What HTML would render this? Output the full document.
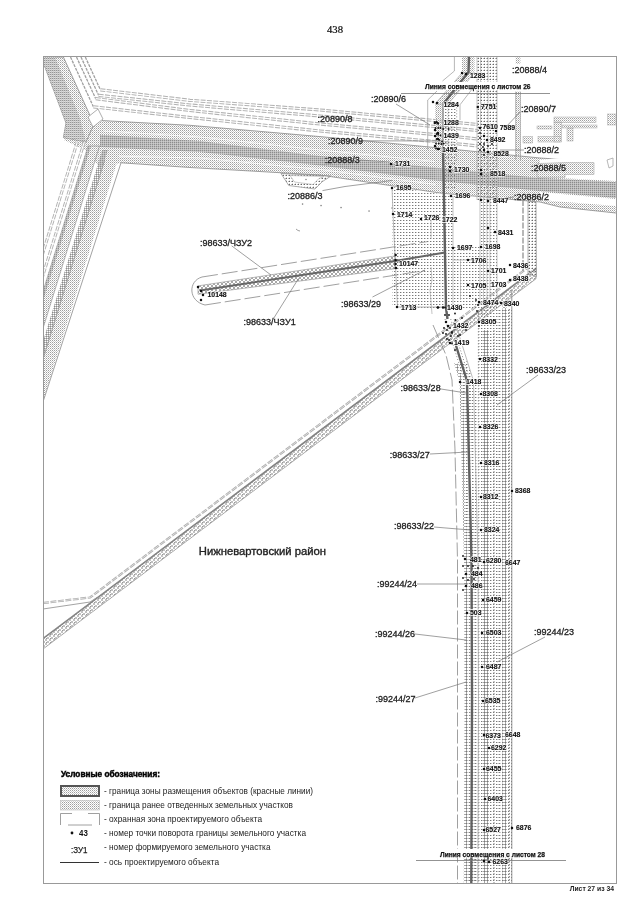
<!DOCTYPE html>
<html><head><meta charset="utf-8">
<style>
html,body{margin:0;padding:0;background:#fff;}
body{width:640px;height:905px;overflow:hidden;position:relative;font-family:"Liberation Sans",sans-serif;}
svg{position:absolute;left:0;top:0;will-change:transform;}
text{font-family:"Liberation Sans",sans-serif;}
</style></head><body>
<svg width="640" height="905" viewBox="0 0 640 905">
<defs>
<pattern id="lt" width="3" height="3" patternUnits="userSpaceOnUse"><rect x="1" y="1" width="1" height="1" fill="#777"/><rect x="2" y="1" width="1" height="1" fill="#ccc"/></pattern>
<pattern id="lt2" width="3" height="3" patternUnits="userSpaceOnUse"><rect x="1" y="1" width="1" height="1" fill="#666"/><rect x="0" y="1" width="1" height="1" fill="#bbb"/><rect x="1" y="0" width="1" height="1" fill="#ddd"/></pattern>
<pattern id="md" width="2" height="2" patternUnits="userSpaceOnUse"><rect x="0" y="0" width="1" height="1" fill="#9e9e9e"/><rect x="1" y="1" width="1" height="1" fill="#cccccc"/></pattern>
<pattern id="dk" width="2" height="2" patternUnits="userSpaceOnUse"><rect x="0" y="0" width="1" height="1" fill="#8c8c8c"/><rect x="1" y="0" width="1" height="1" fill="#bcbcbc"/><rect x="0" y="1" width="1" height="1" fill="#bcbcbc"/></pattern>
<pattern id="dk2" width="2" height="2" patternUnits="userSpaceOnUse"><rect x="0" y="0" width="1" height="1" fill="#959595"/><rect x="1" y="0" width="1" height="1" fill="#c6c6c6"/><rect x="0" y="1" width="1" height="1" fill="#dedede"/></pattern>
<pattern id="rg" width="4" height="4" patternUnits="userSpaceOnUse"><rect x="1" y="0" width="2" height="1" fill="#a8a8a8"/><rect x="0" y="1" width="1" height="2" fill="#a8a8a8"/><rect x="3" y="1" width="1" height="2" fill="#a8a8a8"/><rect x="1" y="3" width="2" height="1" fill="#a8a8a8"/></pattern>
<pattern id="rgl" width="4" height="4" patternUnits="userSpaceOnUse"><rect x="1" y="0" width="2" height="1" fill="#c2c2c2"/><rect x="0" y="1" width="1" height="2" fill="#c2c2c2"/><rect x="3" y="1" width="1" height="2" fill="#c2c2c2"/><rect x="1" y="3" width="2" height="1" fill="#c2c2c2"/><rect x="2" y="2" width="1" height="1" fill="#999"/></pattern>
<pattern id="rs" width="3" height="3" patternUnits="userSpaceOnUse"><rect x="1" y="0" width="1" height="1" fill="#a6a6a6"/><rect x="0" y="1" width="1" height="1" fill="#a6a6a6"/><rect x="2" y="1" width="1" height="1" fill="#a6a6a6"/><rect x="1" y="2" width="1" height="1" fill="#a6a6a6"/></pattern>
<pattern id="vs" width="3" height="3" patternUnits="userSpaceOnUse"><rect x="1" y="0" width="1" height="1" fill="#888"/><rect x="1" y="2" width="1" height="1" fill="#bbb"/></pattern>
<clipPath id="fr"><rect x="44" y="57" width="572" height="826"/></clipPath>
</defs>

<text x="327" y="33" font-family="Liberation Serif" font-size="11" fill="#000" stroke="#000" stroke-width="0.2" textLength="16" lengthAdjust="spacingAndGlyphs" style="font-family:'Liberation Serif'">438</text>
<g clip-path="url(#fr)">
<polygon points="66,123 91.5,118.75 103,120 121,163 100,168 85,150 64,140" fill="url(#md)"/>
<polygon points="43,57 63.4,57 91.5,118.75 94,124 86,142 63.4,137.5 66,123 43,62" fill="url(#md)" stroke="#8a8a8a" stroke-width="0.8"/>
<polygon points="43,57 55,57 80,118 86,142 63.4,137.5 66,123 43,62" fill="url(#dk2)"/>
<polyline points="85.3,57 100.4,89.8" fill="none" stroke="#a0a0a0" stroke-width="1.3" stroke-dasharray="3,1"/>
<polyline points="100.4,89.8 190,100.3 320,110 440,121 478,124.5" fill="none" stroke="#b2b2b2" stroke-width="3.2" stroke-dasharray="5,1.3"/>
<polyline points="100.4,89.8 190,100.3 320,110 440,121 478,124.5" fill="none" stroke="#fff" stroke-width="1.2"/>
<polyline points="81,57 98.6,95.3" fill="none" stroke="#a0a0a0" stroke-width="1.3" stroke-dasharray="3,1"/>
<polyline points="98.6,95.3 190,105 320,116 440,127 478,130.5" fill="none" stroke="#b2b2b2" stroke-width="3.2" stroke-dasharray="5,1.3"/>
<polyline points="98.6,95.3 190,105 320,116 440,127 478,130.5" fill="none" stroke="#fff" stroke-width="1.2"/>
<polyline points="76.5,57 95.7,98.7" fill="none" stroke="#a0a0a0" stroke-width="1.3" stroke-dasharray="3,1"/>
<polyline points="95.7,98.7 190,110.5 320,124 440,135 478,139" fill="none" stroke="#b2b2b2" stroke-width="3.2" stroke-dasharray="5,1.3"/>
<polyline points="95.7,98.7 190,110.5 320,124 440,135 478,139" fill="none" stroke="#fff" stroke-width="1.2"/>
<polyline points="70.5,57 93.4,106.8" fill="none" stroke="#a0a0a0" stroke-width="1.3" stroke-dasharray="3,1"/>
<polyline points="93.4,106.8 190,117.5 320,131 440,142 478,146" fill="none" stroke="#b2b2b2" stroke-width="3.2" stroke-dasharray="5,1.3"/>
<polyline points="93.4,106.8 190,117.5 320,131 440,142 478,146" fill="none" stroke="#fff" stroke-width="1.2"/>
<polygon points="88,117 98,109 103,119 93,127" fill="#fff" stroke="#999" stroke-width="0.8"/>
<polygon points="102.5,120.6 190,125.3 320,136.6 440,148 540,158 616,163 616,213 560,207 540,202 440,193 320,175 190,167.5 121,162.8 100,150" fill="url(#md)"/>
<polyline points="102.5,120.6 190,125.3 320,136.6 440,148 540,158 616,163" fill="none" stroke="#8a8a8a" stroke-width="0.8"/>
<polyline points="616,213 560,207 540,202 440,193 320,175 190,167.5 121,162.8" fill="none" stroke="#8a8a8a" stroke-width="0.8"/>
<polygon points="100,134.7 200,141 320,156 440,168 540,178 616,182 616,198 540,191 440,181 320,165.6 200,152 100,147" fill="url(#dk)"/>
<polyline points="104,131 200,137 320,150 440,162" fill="none" stroke="#fff" stroke-width="0.8"/>
<polyline points="110,156 200,158 320,169.5 440,185" fill="none" stroke="#fff" stroke-width="0.8"/>
<polygon points="540,192 616,199 616,206 540,200" fill="#fff"/>
<polygon points="560,158 616,161.5 616,181 540,177 540,160" fill="#fff"/>
<polygon points="537,163.6 565,162.6 594,162.6 594,174.4 565,174.4 565,177.4 537,177.4" fill="url(#md)" stroke="#aaa" stroke-width="0.6"/>
<polygon points="607,160 613,158 613,166 609,168" fill="none" stroke="#999" stroke-width="0.7"/>
<polygon points="120.8,150 37.1,420 24.1,420 107.8,150" fill="url(#md)"/>
<polyline points="121,162.8 37.1,420" fill="none" stroke="#8a8a8a" stroke-width="0.8"/>
<polyline points="104.7,160 24.1,420" fill="none" stroke="#8a8a8a" stroke-width="0.8"/>
<polygon points="102.3,150 107.8,150 24.1,420 18.6,420" fill="url(#dk)"/>
<polygon points="88.04,146 99.54,146 14.6,420 3.1,420" fill="url(#md)" stroke="#8a8a8a" stroke-width="0.6"/>
<polygon points="88.04,146 91.04,146 6.1,420 3.1,420" fill="url(#dk)"/>
<polyline points="84.28,142 -1.9,420" fill="none" stroke="#b2b2b2" stroke-width="3" stroke-dasharray="5,1.3"/>
<polyline points="84.28,142 -1.9,420" fill="none" stroke="#fff" stroke-width="1.1"/>
<polyline points="77.28,142 -8.9,420" fill="none" stroke="#b2b2b2" stroke-width="3" stroke-dasharray="5,1.3"/>
<polyline points="77.28,142 -8.9,420" fill="none" stroke="#fff" stroke-width="1.1"/>
<polygon points="281,173.5 288.75,185.5 315,189 322.5,181.5 331,176" fill="url(#lt2)" stroke="#8a8a8a" stroke-width="0.7"/>
<polygon points="290,175.5 294.5,182 313,184.5 319,178.5 324,176.5" fill="#fff" stroke="#aaa" stroke-width="0.6"/>
<circle cx="306" cy="179.5" r="0.8" fill="#888"/>
<rect x="301.9" y="203.4" width="1.3" height="1.3" fill="#777"/>
<rect x="320.4" y="204.9" width="1.3" height="1.3" fill="#777"/>
<rect x="340.4" y="206.9" width="1.3" height="1.3" fill="#777"/>
<rect x="368.4" y="210.4" width="1.3" height="1.3" fill="#777"/>
<rect x="391.4" y="207.4" width="1.3" height="1.3" fill="#777"/>
<path d="M296,229 l2,1.5 l2,0.5" fill="none" stroke="#777" stroke-width="0.7"/>
<polygon points="43,638 536,267.757 536,278.757 43,649" fill="url(#rgl)" stroke="#999" stroke-width="0.8"/>
<line x1="43" y1="638.8" x2="536" y2="268.6" stroke="#808080" stroke-width="1.3"/>
<polyline points="43,603 90,597.5 527,268.154" fill="none" stroke="#aaa" stroke-width="2.2" stroke-dasharray="6,1.5"/>
<polyline points="43,603 90,597.5 527,268.154" fill="none" stroke="#fff" stroke-width="0.6"/>
<polyline points="43,609 90,602 97,597.446" fill="none" stroke="#999" stroke-width="0.9"/>
<polygon points="528,201 536,202 536.5,276.757 528,273.765" fill="url(#lt2)" stroke="#999" stroke-width="0.8"/>
<polyline points="523,200 523,271.186" fill="none" stroke="#999" stroke-width="1.4" stroke-dasharray="6,1.5"/>
<path d="M202,277.0 L428,241.5 M205,305.0 L425,270.5" fill="none" stroke="#888" stroke-width="0.8" stroke-dasharray="16,4"/>
<path d="M202,277.0 C188,281 188,301 205,305.0" fill="none" stroke="#888" stroke-width="0.8"/>
<polygon points="198,285.904 395,255.96 395,268.65 198,294.26" fill="url(#rg)" stroke="#999" stroke-width="0.7"/>
<polygon points="392,187 453,196 497,200 497,310 392,307" fill="url(#lt)"/>
<rect x="453" y="197" width="27" height="48" fill="#fff"/>
<polyline points="392,187 393,214 397.5,307 445,307" fill="none" stroke="#999" stroke-width="0.7"/>
<polyline points="431,219 431,238" fill="none" stroke="#aaa" stroke-width="0.7"/>
<polyline points="431,267 432,280 430,290 432,314" fill="none" stroke="#aaa" stroke-width="0.7"/>
<polyline points="453,196 453,307" fill="none" stroke="#aaa" stroke-width="0.7"/>
<polyline points="460.5,260 460.5,300" fill="none" stroke="#aaa" stroke-width="0.7"/>
<polyline points="453,260 480,260" fill="none" stroke="#aaa" stroke-width="0.7"/>
<line x1="480" y1="197" x2="480" y2="300" stroke="#aaa" stroke-width="0.7"/>
<line x1="483.5" y1="197" x2="483.5" y2="300" stroke="#aaa" stroke-width="0.7"/>
<line x1="487" y1="197" x2="487" y2="300" stroke="#aaa" stroke-width="0.7"/>
<line x1="490" y1="197" x2="490" y2="300" stroke="#aaa" stroke-width="0.7"/>
<line x1="497" y1="197" x2="497" y2="300" stroke="#aaa" stroke-width="0.7"/>
<rect x="462" y="56" width="12.5" height="17" fill="url(#md)"/>
<polygon points="462,73 474.5,73 448,104 435,104" fill="url(#md)" stroke="#999" stroke-width="0.6"/>
<rect x="435" y="103" width="9" height="85" fill="url(#md)"/>
<rect x="444" y="103" width="13" height="85" fill="url(#lt)"/>
<rect x="477" y="56" width="20" height="144" fill="url(#lt2)"/>
<line x1="477" y1="56" x2="477" y2="200" stroke="#aaa" stroke-width="0.7"/>
<line x1="480.5" y1="56" x2="480.5" y2="200" stroke="#aaa" stroke-width="0.7"/>
<line x1="488" y1="56" x2="488" y2="200" stroke="#aaa" stroke-width="0.7"/>
<line x1="497" y1="56" x2="497" y2="200" stroke="#aaa" stroke-width="0.7"/>
<polyline points="454.4,56 454.4,71 442.5,81" fill="none" stroke="#999" stroke-width="0.7"/>
<polyline points="437,91 427.7,100 427.7,150" fill="none" stroke="#999" stroke-width="0.7"/>
<polyline points="476,84 460,104.75 460,120" fill="none" stroke="#999" stroke-width="0.7"/>
<line x1="448" y1="104" x2="448" y2="160" stroke="#999" stroke-width="0.7" stroke-dasharray="1.5,1.5"/>
<line x1="456.7" y1="104" x2="456.7" y2="160" stroke="#999" stroke-width="0.7" stroke-dasharray="1.5,1.5"/>
<rect x="515.7" y="56" width="4.7" height="8" fill="url(#md)"/>
<rect x="515.7" y="91.6" width="4.7" height="64" fill="url(#md)"/>
<line x1="515.7" y1="91.6" x2="515.7" y2="160" stroke="#999" stroke-width="0.7"/>
<line x1="520.4" y1="91.6" x2="520.4" y2="160" stroke="#999" stroke-width="0.7"/>
<rect x="554" y="117" width="42" height="5.6" fill="url(#md)" stroke="#aaa" stroke-width="0.5"/>
<rect x="554" y="122" width="7.6" height="20" fill="url(#md)" stroke="#aaa" stroke-width="0.5"/>
<rect x="538" y="136.6" width="22" height="5.4" fill="url(#md)" stroke="#aaa" stroke-width="0.5"/>
<rect x="537" y="126" width="15" height="3" fill="url(#md)" stroke="#aaa" stroke-width="0.5"/>
<rect x="562.6" y="125" width="34.4" height="3" fill="url(#md)" stroke="#aaa" stroke-width="0.5"/>
<rect x="567" y="128" width="6" height="13" fill="url(#md)" stroke="#aaa" stroke-width="0.5"/>
<rect x="607.6" y="114" width="8.4" height="11" fill="url(#md)" stroke="#aaa" stroke-width="0.5"/>
<rect x="523" y="136.6" width="9.6" height="6.4" fill="url(#md)" stroke="#aaa" stroke-width="0.5"/>
<rect x="477" y="310" width="35" height="574" fill="url(#lt)"/>
<rect x="473.5" y="385" width="4" height="499" fill="url(#lt)"/>
<rect x="483" y="330" width="6" height="554" fill="url(#rs)"/>
<rect x="502.5" y="300" width="4" height="584" fill="url(#rs)"/>
<line x1="478.4" y1="310" x2="478.4" y2="884" stroke="#999" stroke-width="1" stroke-dasharray="1.5,1.5"/>
<line x1="494" y1="330" x2="494" y2="884" stroke="#888" stroke-width="1" stroke-dasharray="1,2"/>
<line x1="499" y1="310" x2="499" y2="884" stroke="#888" stroke-width="1" stroke-dasharray="1,2"/>
<line x1="509.3" y1="300" x2="509.3" y2="884" stroke="#888" stroke-width="1.2" stroke-dasharray="1,2"/>
<line x1="511.8" y1="290" x2="511.8" y2="884" stroke="#888" stroke-width="0.9"/>
<path d="M461.5,363 L467,381 L471.5,560 L472,700 L471.3,884" fill="none" stroke="url(#lt)" stroke-width="12" />
<path d="M461.5,363 L467,381 L471.5,560 L472,700 L471.3,884" transform="translate(-6,0)" fill="none" stroke="url(#rs)" stroke-width="3"/>
<path d="M447.5,319 L467,381 L471.5,560 L472,700 L471.3,884" transform="translate(-2.5,0)" fill="none" stroke="#888" stroke-width="1" stroke-dasharray="1,2"/>
<path d="M447.5,319 L467,381 L471.5,560 L472,700 L471.3,884" transform="translate(3.2,0)" fill="none" stroke="#888" stroke-width="1" stroke-dasharray="1,2"/>
<path d="M447.5,319 L467,381 L471.5,560 L472,700 L471.3,884" transform="translate(6.5,0)" fill="none" stroke="#aaa" stroke-width="0.8"/>
<polyline points="433,325 446,355 452,380 455,450 457.5,560 457.5,884" fill="none" stroke="#888" stroke-width="0.8" stroke-dasharray="14,3"/>
<path d="M469,56 L468.5,72 L444,103" fill="none" stroke="#606060" stroke-width="2.4"/>
<path d="M443,103 L443,150" fill="none" stroke="#9a9a9a" stroke-width="1.6"/>
<path d="M443,150 L444,200 L446,308 L447.5,319" fill="none" stroke="#606060" stroke-width="2.4"/>
<path d="M455.5,344 L467,381 L471.5,560 L472,700 L471.3,884" fill="none" stroke="#606060" stroke-width="2.4"/>
<polyline points="200,290.5 395,261 445,252.5" fill="none" stroke="#666" stroke-width="2"/>
</g>
<rect x="424" y="82" width="108" height="8" fill="#fff"/>
<line x1="401" y1="93.5" x2="550" y2="93.5" stroke="#777" stroke-width="0.8"/>
<text x="425" y="89" font-size="7.6" font-weight="bold" fill="#111" stroke="#111" stroke-width="0.25" textLength="105.6" lengthAdjust="spacingAndGlyphs">Линия совмещения с листом 26</text>
<rect x="439" y="849" width="108" height="8.5" fill="#fff"/>
<line x1="416" y1="860.5" x2="566" y2="860.5" stroke="#777" stroke-width="0.8"/>
<text x="440" y="856.5" font-size="7.6" font-weight="bold" fill="#111" stroke="#111" stroke-width="0.25" textLength="105" lengthAdjust="spacingAndGlyphs">Линия совмещения с листом 28</text>
<g fill="#111">
<circle cx="434.9" cy="122" r="0.9"/>
<circle cx="436.6" cy="122" r="0.9"/>
<circle cx="438.2" cy="123.7" r="0.9"/>
<circle cx="435.5" cy="128" r="0.9"/>
<circle cx="438.2" cy="128" r="0.9"/>
<circle cx="440.4" cy="128" r="0.9"/>
<circle cx="443.2" cy="129" r="0.9"/>
<circle cx="448.7" cy="129" r="0.9"/>
<circle cx="436.6" cy="134" r="0.9"/>
<circle cx="438.2" cy="134.7" r="0.9"/>
<circle cx="440.4" cy="135.3" r="0.9"/>
<circle cx="436.6" cy="139" r="0.9"/>
<circle cx="439.3" cy="140" r="0.9"/>
<circle cx="442" cy="141.4" r="0.9"/>
<circle cx="436" cy="143.6" r="0.9"/>
<circle cx="438.8" cy="143.6" r="0.9"/>
<circle cx="441.5" cy="144" r="0.9"/>
<circle cx="443.7" cy="143.6" r="0.9"/>
<circle cx="436" cy="148.5" r="0.9"/>
<circle cx="439.3" cy="149" r="0.9"/>
<circle cx="480" cy="133" r="0.9"/>
<circle cx="480" cy="138" r="0.9"/>
<circle cx="484" cy="144" r="0.9"/>
<circle cx="480" cy="144" r="0.9"/>
<circle cx="483" cy="147" r="0.9"/>
<circle cx="488" cy="146" r="0.9"/>
<circle cx="480" cy="150" r="0.9"/>
<circle cx="484" cy="155" r="0.9"/>
<circle cx="492" cy="144" r="0.9"/>
<circle cx="476" cy="300" r="0.9"/>
<circle cx="470" cy="296" r="0.9"/>
<circle cx="462" cy="318" r="0.9"/>
<circle cx="466" cy="330" r="0.9"/>
<circle cx="458" cy="336" r="0.9"/>
<circle cx="452" cy="332" r="0.9"/>
<circle cx="449" cy="340" r="0.9"/>
<circle cx="455" cy="350" r="0.9"/>
<circle cx="437.5" cy="307.5" r="0.9"/>
<circle cx="445" cy="307.5" r="0.9"/>
<circle cx="445" cy="315" r="0.9"/>
<circle cx="449" cy="315" r="0.9"/>
<circle cx="455" cy="313.5" r="0.9"/>
<circle cx="455.5" cy="320" r="0.9"/>
<circle cx="444" cy="328" r="0.9"/>
<circle cx="447" cy="330" r="0.9"/>
<circle cx="450" cy="328" r="0.9"/>
<circle cx="443" cy="333" r="0.9"/>
<circle cx="446" cy="334" r="0.9"/>
<circle cx="452" cy="333" r="0.9"/>
<circle cx="447" cy="339" r="0.9"/>
<circle cx="451" cy="336" r="0.9"/>
<circle cx="460" cy="335" r="0.9"/>
<circle cx="452" cy="343.5" r="0.9"/>
<circle cx="478" cy="305" r="0.9"/>
<circle cx="477" cy="311" r="0.9"/>
<circle cx="479" cy="326" r="0.9"/>
<circle cx="463" cy="556" r="0.9"/>
<circle cx="463" cy="566" r="0.9"/>
<circle cx="468" cy="566" r="0.9"/>
<circle cx="473" cy="566" r="0.9"/>
<circle cx="463" cy="578" r="0.9"/>
<circle cx="468" cy="580" r="0.9"/>
<circle cx="463" cy="590" r="0.9"/>
<circle cx="474" cy="579" r="0.9"/>
<circle cx="478" cy="568" r="0.9"/>
<circle cx="462" cy="73" r="1.25"/>
<circle cx="466" cy="74" r="1.25"/>
<circle cx="433" cy="102" r="1.25"/>
<circle cx="437" cy="103" r="1.25"/>
<circle cx="477.8" cy="107" r="1.25"/>
<circle cx="434.8" cy="123" r="1.25"/>
<circle cx="437.5" cy="123" r="1.25"/>
<circle cx="435" cy="130" r="1.25"/>
<circle cx="438" cy="133" r="1.25"/>
<circle cx="435" cy="136" r="1.25"/>
<circle cx="438" cy="139" r="1.25"/>
<circle cx="435" cy="146" r="1.25"/>
<circle cx="438" cy="149" r="1.25"/>
<circle cx="480" cy="128" r="1.25"/>
<circle cx="496" cy="131" r="1.25"/>
<circle cx="484" cy="136" r="1.25"/>
<circle cx="487" cy="140" r="1.25"/>
<circle cx="484" cy="150" r="1.25"/>
<circle cx="488" cy="152" r="1.25"/>
<circle cx="391" cy="164" r="1.25"/>
<circle cx="450" cy="167" r="1.25"/>
<circle cx="450" cy="171" r="1.25"/>
<circle cx="481" cy="170" r="1.25"/>
<circle cx="481" cy="174" r="1.25"/>
<circle cx="392" cy="188" r="1.25"/>
<circle cx="451" cy="196" r="1.25"/>
<circle cx="481" cy="200" r="1.25"/>
<circle cx="488" cy="201" r="1.25"/>
<circle cx="393" cy="214" r="1.25"/>
<circle cx="421" cy="219" r="1.25"/>
<circle cx="488" cy="228" r="1.25"/>
<circle cx="495" cy="232" r="1.25"/>
<circle cx="453" cy="248" r="1.25"/>
<circle cx="481" cy="247" r="1.25"/>
<circle cx="395.6" cy="255" r="1.25"/>
<circle cx="395.6" cy="260" r="1.25"/>
<circle cx="395.6" cy="264" r="1.25"/>
<circle cx="396" cy="268" r="1.25"/>
<circle cx="468" cy="260" r="1.25"/>
<circle cx="510" cy="265" r="1.25"/>
<circle cx="488" cy="271" r="1.25"/>
<circle cx="510" cy="280" r="1.25"/>
<circle cx="468" cy="285" r="1.25"/>
<circle cx="479" cy="302" r="1.25"/>
<circle cx="501" cy="303" r="1.25"/>
<circle cx="397" cy="307" r="1.25"/>
<circle cx="438" cy="307.5" r="1.25"/>
<circle cx="443" cy="307.5" r="1.25"/>
<circle cx="479" cy="322" r="1.25"/>
<circle cx="446" cy="322" r="1.25"/>
<circle cx="448" cy="326" r="1.25"/>
<circle cx="450" cy="343" r="1.25"/>
<circle cx="480" cy="359" r="1.25"/>
<circle cx="460" cy="382" r="1.25"/>
<circle cx="481" cy="394" r="1.25"/>
<circle cx="480" cy="427" r="1.25"/>
<circle cx="481" cy="463" r="1.25"/>
<circle cx="481" cy="497" r="1.25"/>
<circle cx="512" cy="491" r="1.25"/>
<circle cx="481" cy="530" r="1.25"/>
<circle cx="465" cy="559" r="1.25"/>
<circle cx="484" cy="562" r="1.25"/>
<circle cx="466" cy="574" r="1.25"/>
<circle cx="466" cy="586" r="1.25"/>
<circle cx="483" cy="600" r="1.25"/>
<circle cx="467" cy="613" r="1.25"/>
<circle cx="482" cy="633" r="1.25"/>
<circle cx="482" cy="667" r="1.25"/>
<circle cx="483" cy="701" r="1.25"/>
<circle cx="484" cy="735" r="1.25"/>
<circle cx="489" cy="748" r="1.25"/>
<circle cx="484" cy="769" r="1.25"/>
<circle cx="485" cy="799" r="1.25"/>
<circle cx="484" cy="830" r="1.25"/>
<circle cx="512" cy="828" r="1.25"/>
<circle cx="484" cy="861" r="1.25"/>
<circle cx="489" cy="862" r="1.25"/>
<circle cx="198" cy="287" r="1.25"/>
<circle cx="201" cy="291" r="1.25"/>
<circle cx="203" cy="295" r="1.25"/>
<circle cx="201" cy="300" r="1.25"/>
</g>
<g font-size="7.7" font-weight="bold" fill="#fff" stroke="#fff" stroke-width="1.3" stroke-linejoin="round">
<text x="470" y="77.9" textLength="15.4" lengthAdjust="spacingAndGlyphs">1283</text>
<text x="443.4" y="107.2" textLength="15.4" lengthAdjust="spacingAndGlyphs">1284</text>
<text x="481" y="109.4" textLength="15.4" lengthAdjust="spacingAndGlyphs">7751</text>
<text x="443.4" y="125.4" textLength="15.4" lengthAdjust="spacingAndGlyphs">1288</text>
<text x="443.4" y="138.1" textLength="15.4" lengthAdjust="spacingAndGlyphs">1439</text>
<text x="442" y="152.2" textLength="15.4" lengthAdjust="spacingAndGlyphs">1452</text>
<text x="482.5" y="129.4" textLength="15.4" lengthAdjust="spacingAndGlyphs">7610</text>
<text x="499.7" y="130.4" textLength="15.4" lengthAdjust="spacingAndGlyphs">7589</text>
<text x="490" y="142.4" textLength="15.4" lengthAdjust="spacingAndGlyphs">8492</text>
<text x="493.4" y="156.0" textLength="15.4" lengthAdjust="spacingAndGlyphs">8528</text>
<text x="395" y="166.4" textLength="15.4" lengthAdjust="spacingAndGlyphs">1731</text>
<text x="454" y="172.4" textLength="15.4" lengthAdjust="spacingAndGlyphs">1730</text>
<text x="490" y="176.4" textLength="15.4" lengthAdjust="spacingAndGlyphs">8518</text>
<text x="396" y="190.4" textLength="15.4" lengthAdjust="spacingAndGlyphs">1695</text>
<text x="455" y="198.4" textLength="15.4" lengthAdjust="spacingAndGlyphs">1696</text>
<text x="493" y="203.4" textLength="15.4" lengthAdjust="spacingAndGlyphs">8447</text>
<text x="397" y="217.4" textLength="15.4" lengthAdjust="spacingAndGlyphs">1714</text>
<text x="424" y="220.4" textLength="15.4" lengthAdjust="spacingAndGlyphs">1726</text>
<text x="442" y="222.4" textLength="15.4" lengthAdjust="spacingAndGlyphs">1722</text>
<text x="498" y="235.4" textLength="15.4" lengthAdjust="spacingAndGlyphs">8431</text>
<text x="457" y="250.4" textLength="15.4" lengthAdjust="spacingAndGlyphs">1697</text>
<text x="485" y="249.4" textLength="15.4" lengthAdjust="spacingAndGlyphs">1698</text>
<text x="399" y="266.0" textLength="19.2" lengthAdjust="spacingAndGlyphs">10147</text>
<text x="471" y="263.4" textLength="15.4" lengthAdjust="spacingAndGlyphs">1706</text>
<text x="513" y="268.4" textLength="15.4" lengthAdjust="spacingAndGlyphs">8436</text>
<text x="491" y="273.4" textLength="15.4" lengthAdjust="spacingAndGlyphs">1701</text>
<text x="513" y="281.4" textLength="15.4" lengthAdjust="spacingAndGlyphs">8438</text>
<text x="471" y="288.4" textLength="15.4" lengthAdjust="spacingAndGlyphs">1705</text>
<text x="491" y="287.4" textLength="15.4" lengthAdjust="spacingAndGlyphs">1703</text>
<text x="483" y="304.9" textLength="15.4" lengthAdjust="spacingAndGlyphs">8474</text>
<text x="504" y="305.9" textLength="15.4" lengthAdjust="spacingAndGlyphs">8340</text>
<text x="401" y="309.9" textLength="15.4" lengthAdjust="spacingAndGlyphs">1713</text>
<text x="447" y="309.9" textLength="15.4" lengthAdjust="spacingAndGlyphs">1430</text>
<text x="481" y="324.4" textLength="15.4" lengthAdjust="spacingAndGlyphs">8305</text>
<text x="453" y="328.0" textLength="15.4" lengthAdjust="spacingAndGlyphs">1432</text>
<text x="454" y="344.9" textLength="15.4" lengthAdjust="spacingAndGlyphs">1419</text>
<text x="482.5" y="362.4" textLength="15.4" lengthAdjust="spacingAndGlyphs">8332</text>
<text x="466" y="384.4" textLength="15.4" lengthAdjust="spacingAndGlyphs">1418</text>
<text x="482.5" y="396.4" textLength="15.4" lengthAdjust="spacingAndGlyphs">8308</text>
<text x="483" y="429.4" textLength="15.4" lengthAdjust="spacingAndGlyphs">8326</text>
<text x="484" y="465.4" textLength="15.4" lengthAdjust="spacingAndGlyphs">8316</text>
<text x="483" y="499.4" textLength="15.4" lengthAdjust="spacingAndGlyphs">8312</text>
<text x="515" y="493.4" textLength="15.4" lengthAdjust="spacingAndGlyphs">8368</text>
<text x="484" y="532.4" textLength="15.4" lengthAdjust="spacingAndGlyphs">8324</text>
<text x="470" y="562.4" textLength="11.6" lengthAdjust="spacingAndGlyphs">481</text>
<text x="486" y="563.4" textLength="15.4" lengthAdjust="spacingAndGlyphs">6280</text>
<text x="505" y="565.4" textLength="15.4" lengthAdjust="spacingAndGlyphs">6647</text>
<text x="471" y="576.4" textLength="11.6" lengthAdjust="spacingAndGlyphs">484</text>
<text x="471" y="588.4" textLength="11.6" lengthAdjust="spacingAndGlyphs">486</text>
<text x="486" y="602.4" textLength="15.4" lengthAdjust="spacingAndGlyphs">6459</text>
<text x="470" y="615.4" textLength="11.6" lengthAdjust="spacingAndGlyphs">503</text>
<text x="486" y="635.4" textLength="15.4" lengthAdjust="spacingAndGlyphs">6503</text>
<text x="486" y="669.4" textLength="15.4" lengthAdjust="spacingAndGlyphs">6487</text>
<text x="485" y="703.4" textLength="15.4" lengthAdjust="spacingAndGlyphs">6535</text>
<text x="485.5" y="738.4" textLength="15.4" lengthAdjust="spacingAndGlyphs">6373</text>
<text x="505" y="737.4" textLength="15.4" lengthAdjust="spacingAndGlyphs">6648</text>
<text x="491" y="750.4" textLength="15.4" lengthAdjust="spacingAndGlyphs">6292</text>
<text x="486" y="771.4" textLength="15.4" lengthAdjust="spacingAndGlyphs">6455</text>
<text x="487.5" y="801.4" textLength="15.4" lengthAdjust="spacingAndGlyphs">6403</text>
<text x="485.5" y="832.4" textLength="15.4" lengthAdjust="spacingAndGlyphs">6527</text>
<text x="516" y="830.4" textLength="15.4" lengthAdjust="spacingAndGlyphs">6876</text>
<text x="492.5" y="864.4" textLength="15.4" lengthAdjust="spacingAndGlyphs">6263</text>
<text x="207.5" y="296.9" textLength="19.2" lengthAdjust="spacingAndGlyphs">10148</text>
</g>
<g font-size="7.7" font-weight="bold" fill="#111" stroke="#111" stroke-width="0.15">
<text x="470" y="77.9" textLength="15.4" lengthAdjust="spacingAndGlyphs">1283</text>
<text x="443.4" y="107.2" textLength="15.4" lengthAdjust="spacingAndGlyphs">1284</text>
<text x="481" y="109.4" textLength="15.4" lengthAdjust="spacingAndGlyphs">7751</text>
<text x="443.4" y="125.4" textLength="15.4" lengthAdjust="spacingAndGlyphs">1288</text>
<text x="443.4" y="138.1" textLength="15.4" lengthAdjust="spacingAndGlyphs">1439</text>
<text x="442" y="152.2" textLength="15.4" lengthAdjust="spacingAndGlyphs">1452</text>
<text x="482.5" y="129.4" textLength="15.4" lengthAdjust="spacingAndGlyphs">7610</text>
<text x="499.7" y="130.4" textLength="15.4" lengthAdjust="spacingAndGlyphs">7589</text>
<text x="490" y="142.4" textLength="15.4" lengthAdjust="spacingAndGlyphs">8492</text>
<text x="493.4" y="156.0" textLength="15.4" lengthAdjust="spacingAndGlyphs">8528</text>
<text x="395" y="166.4" textLength="15.4" lengthAdjust="spacingAndGlyphs">1731</text>
<text x="454" y="172.4" textLength="15.4" lengthAdjust="spacingAndGlyphs">1730</text>
<text x="490" y="176.4" textLength="15.4" lengthAdjust="spacingAndGlyphs">8518</text>
<text x="396" y="190.4" textLength="15.4" lengthAdjust="spacingAndGlyphs">1695</text>
<text x="455" y="198.4" textLength="15.4" lengthAdjust="spacingAndGlyphs">1696</text>
<text x="493" y="203.4" textLength="15.4" lengthAdjust="spacingAndGlyphs">8447</text>
<text x="397" y="217.4" textLength="15.4" lengthAdjust="spacingAndGlyphs">1714</text>
<text x="424" y="220.4" textLength="15.4" lengthAdjust="spacingAndGlyphs">1726</text>
<text x="442" y="222.4" textLength="15.4" lengthAdjust="spacingAndGlyphs">1722</text>
<text x="498" y="235.4" textLength="15.4" lengthAdjust="spacingAndGlyphs">8431</text>
<text x="457" y="250.4" textLength="15.4" lengthAdjust="spacingAndGlyphs">1697</text>
<text x="485" y="249.4" textLength="15.4" lengthAdjust="spacingAndGlyphs">1698</text>
<text x="399" y="266.0" textLength="19.2" lengthAdjust="spacingAndGlyphs">10147</text>
<text x="471" y="263.4" textLength="15.4" lengthAdjust="spacingAndGlyphs">1706</text>
<text x="513" y="268.4" textLength="15.4" lengthAdjust="spacingAndGlyphs">8436</text>
<text x="491" y="273.4" textLength="15.4" lengthAdjust="spacingAndGlyphs">1701</text>
<text x="513" y="281.4" textLength="15.4" lengthAdjust="spacingAndGlyphs">8438</text>
<text x="471" y="288.4" textLength="15.4" lengthAdjust="spacingAndGlyphs">1705</text>
<text x="491" y="287.4" textLength="15.4" lengthAdjust="spacingAndGlyphs">1703</text>
<text x="483" y="304.9" textLength="15.4" lengthAdjust="spacingAndGlyphs">8474</text>
<text x="504" y="305.9" textLength="15.4" lengthAdjust="spacingAndGlyphs">8340</text>
<text x="401" y="309.9" textLength="15.4" lengthAdjust="spacingAndGlyphs">1713</text>
<text x="447" y="309.9" textLength="15.4" lengthAdjust="spacingAndGlyphs">1430</text>
<text x="481" y="324.4" textLength="15.4" lengthAdjust="spacingAndGlyphs">8305</text>
<text x="453" y="328.0" textLength="15.4" lengthAdjust="spacingAndGlyphs">1432</text>
<text x="454" y="344.9" textLength="15.4" lengthAdjust="spacingAndGlyphs">1419</text>
<text x="482.5" y="362.4" textLength="15.4" lengthAdjust="spacingAndGlyphs">8332</text>
<text x="466" y="384.4" textLength="15.4" lengthAdjust="spacingAndGlyphs">1418</text>
<text x="482.5" y="396.4" textLength="15.4" lengthAdjust="spacingAndGlyphs">8308</text>
<text x="483" y="429.4" textLength="15.4" lengthAdjust="spacingAndGlyphs">8326</text>
<text x="484" y="465.4" textLength="15.4" lengthAdjust="spacingAndGlyphs">8316</text>
<text x="483" y="499.4" textLength="15.4" lengthAdjust="spacingAndGlyphs">8312</text>
<text x="515" y="493.4" textLength="15.4" lengthAdjust="spacingAndGlyphs">8368</text>
<text x="484" y="532.4" textLength="15.4" lengthAdjust="spacingAndGlyphs">8324</text>
<text x="470" y="562.4" textLength="11.6" lengthAdjust="spacingAndGlyphs">481</text>
<text x="486" y="563.4" textLength="15.4" lengthAdjust="spacingAndGlyphs">6280</text>
<text x="505" y="565.4" textLength="15.4" lengthAdjust="spacingAndGlyphs">6647</text>
<text x="471" y="576.4" textLength="11.6" lengthAdjust="spacingAndGlyphs">484</text>
<text x="471" y="588.4" textLength="11.6" lengthAdjust="spacingAndGlyphs">486</text>
<text x="486" y="602.4" textLength="15.4" lengthAdjust="spacingAndGlyphs">6459</text>
<text x="470" y="615.4" textLength="11.6" lengthAdjust="spacingAndGlyphs">503</text>
<text x="486" y="635.4" textLength="15.4" lengthAdjust="spacingAndGlyphs">6503</text>
<text x="486" y="669.4" textLength="15.4" lengthAdjust="spacingAndGlyphs">6487</text>
<text x="485" y="703.4" textLength="15.4" lengthAdjust="spacingAndGlyphs">6535</text>
<text x="485.5" y="738.4" textLength="15.4" lengthAdjust="spacingAndGlyphs">6373</text>
<text x="505" y="737.4" textLength="15.4" lengthAdjust="spacingAndGlyphs">6648</text>
<text x="491" y="750.4" textLength="15.4" lengthAdjust="spacingAndGlyphs">6292</text>
<text x="486" y="771.4" textLength="15.4" lengthAdjust="spacingAndGlyphs">6455</text>
<text x="487.5" y="801.4" textLength="15.4" lengthAdjust="spacingAndGlyphs">6403</text>
<text x="485.5" y="832.4" textLength="15.4" lengthAdjust="spacingAndGlyphs">6527</text>
<text x="516" y="830.4" textLength="15.4" lengthAdjust="spacingAndGlyphs">6876</text>
<text x="492.5" y="864.4" textLength="15.4" lengthAdjust="spacingAndGlyphs">6263</text>
<text x="207.5" y="296.9" textLength="19.2" lengthAdjust="spacingAndGlyphs">10148</text>
</g>
<g font-size="9" fill="#222" stroke="#222" stroke-width="0.3">
<text x="371" y="101.9">:20890/6</text>
<text x="317.5" y="122.3">:20890/8</text>
<text x="328" y="144.1">:20890/9</text>
<text x="324.8" y="163.3">:20888/3</text>
<text x="287.5" y="198.8">:20886/3</text>
<text x="512" y="73.3">:20888/4</text>
<text x="521" y="112.3">:20890/7</text>
<text x="524" y="152.8">:20888/2</text>
<text x="531" y="170.8">:20888/5</text>
<text x="514" y="199.9">:20886/2</text>
<text x="200" y="245.6">:98633/ЧЗУ2</text>
<text x="243.6" y="325.3">:98633/ЧЗУ1</text>
<text x="341" y="306.8">:98633/29</text>
<text x="526" y="373.3">:98633/23</text>
<text x="400.6" y="391.3">:98633/28</text>
<text x="389.8" y="457.8">:98633/27</text>
<text x="394" y="529.3">:98633/22</text>
<text x="377" y="587.3">:99244/24</text>
<text x="534" y="635.3">:99244/23</text>
<text x="375" y="636.9">:99244/26</text>
<text x="375.5" y="702.0">:99244/27</text>
</g>
<g stroke="#777" stroke-width="0.7" fill="none">
<polyline points="396,104 430,125"/>
<polyline points="363,140.8 440,141"/>
<polyline points="360,160 390,162"/>
<polyline points="322.5,190.6 345,186.5 392,180.5"/>
<polyline points="231.6,245.8 271,275"/>
<polyline points="272.8,319.7 298.6,278.4"/>
<polyline points="372.5,297 425,270"/>
<polyline points="434,527 470,530"/>
<polyline points="417,584 468,584"/>
<polyline points="415,634 466,640"/>
<polyline points="415,698 466,682"/>
<polyline points="441,389 466,393"/>
<polyline points="430,454 468,452"/>
<polyline points="538,375 497,405"/>
<polyline points="545,637 497,662"/>
<polyline points="520,112 505,128"/>
<polyline points="524,150 500,150"/>
<polyline points="514,197 500,199"/>
</g>
<text x="198.75" y="555" font-size="11" fill="#222" stroke="#222" stroke-width="0.35" textLength="127.25" lengthAdjust="spacingAndGlyphs">Нижневартовский район</text>
<text x="61" y="776.5" font-size="8.6" font-weight="bold" fill="#000" stroke="#000" stroke-width="0.45" textLength="99" lengthAdjust="spacingAndGlyphs">Условные обозначения:</text>
<rect x="61" y="786" width="38" height="10" fill="url(#md)" stroke="#555" stroke-width="2"/>
<rect x="60.5" y="800.5" width="39" height="9.5" fill="url(#md)" stroke="#bbb" stroke-width="0.6"/>
<path d="M60.5,825 V813.5 H72 M88,813.5 H99.5 V825 M68,825 H92" fill="none" stroke="#888" stroke-width="0.8"/>
<circle cx="72" cy="833" r="1.4" fill="#111"/>
<text x="79" y="836.3" font-size="9" font-weight="bold" fill="#111" textLength="8.8" lengthAdjust="spacingAndGlyphs">43</text>
<text x="71" y="852.6" font-size="9" fill="#222" stroke="#222" stroke-width="0.25" textLength="16.5" lengthAdjust="spacingAndGlyphs">:ЗУ1</text>
<line x1="60" y1="862.5" x2="99" y2="862.5" stroke="#333" stroke-width="1"/>
<g font-size="8.4" fill="#222">
<text x="104" y="794.3" textLength="209" lengthAdjust="spacingAndGlyphs">- граница зоны размещения объектов (красные линии)</text>
<text x="104" y="808.3" textLength="189" lengthAdjust="spacingAndGlyphs">- граница ранее отведенных земельных участков</text>
<text x="104" y="822.3" textLength="158" lengthAdjust="spacingAndGlyphs">- охранная зона проектируемого объекта</text>
<text x="104" y="836.3" textLength="202" lengthAdjust="spacingAndGlyphs">- номер точки поворота границы земельного участка</text>
<text x="104" y="850.3" textLength="166.5" lengthAdjust="spacingAndGlyphs">- номер формируемого земельного участка</text>
<text x="104" y="864.6" textLength="115" lengthAdjust="spacingAndGlyphs">- ось проектируемого объекта</text>
</g>
<rect x="43.5" y="56.5" width="573" height="827" fill="none" stroke="#999" stroke-width="1"/>
<text x="569.7" y="891" font-size="7.2" font-weight="bold" fill="#222" textLength="44.3" lengthAdjust="spacingAndGlyphs">Лист 27 из 34</text>
</svg>
</body></html>
